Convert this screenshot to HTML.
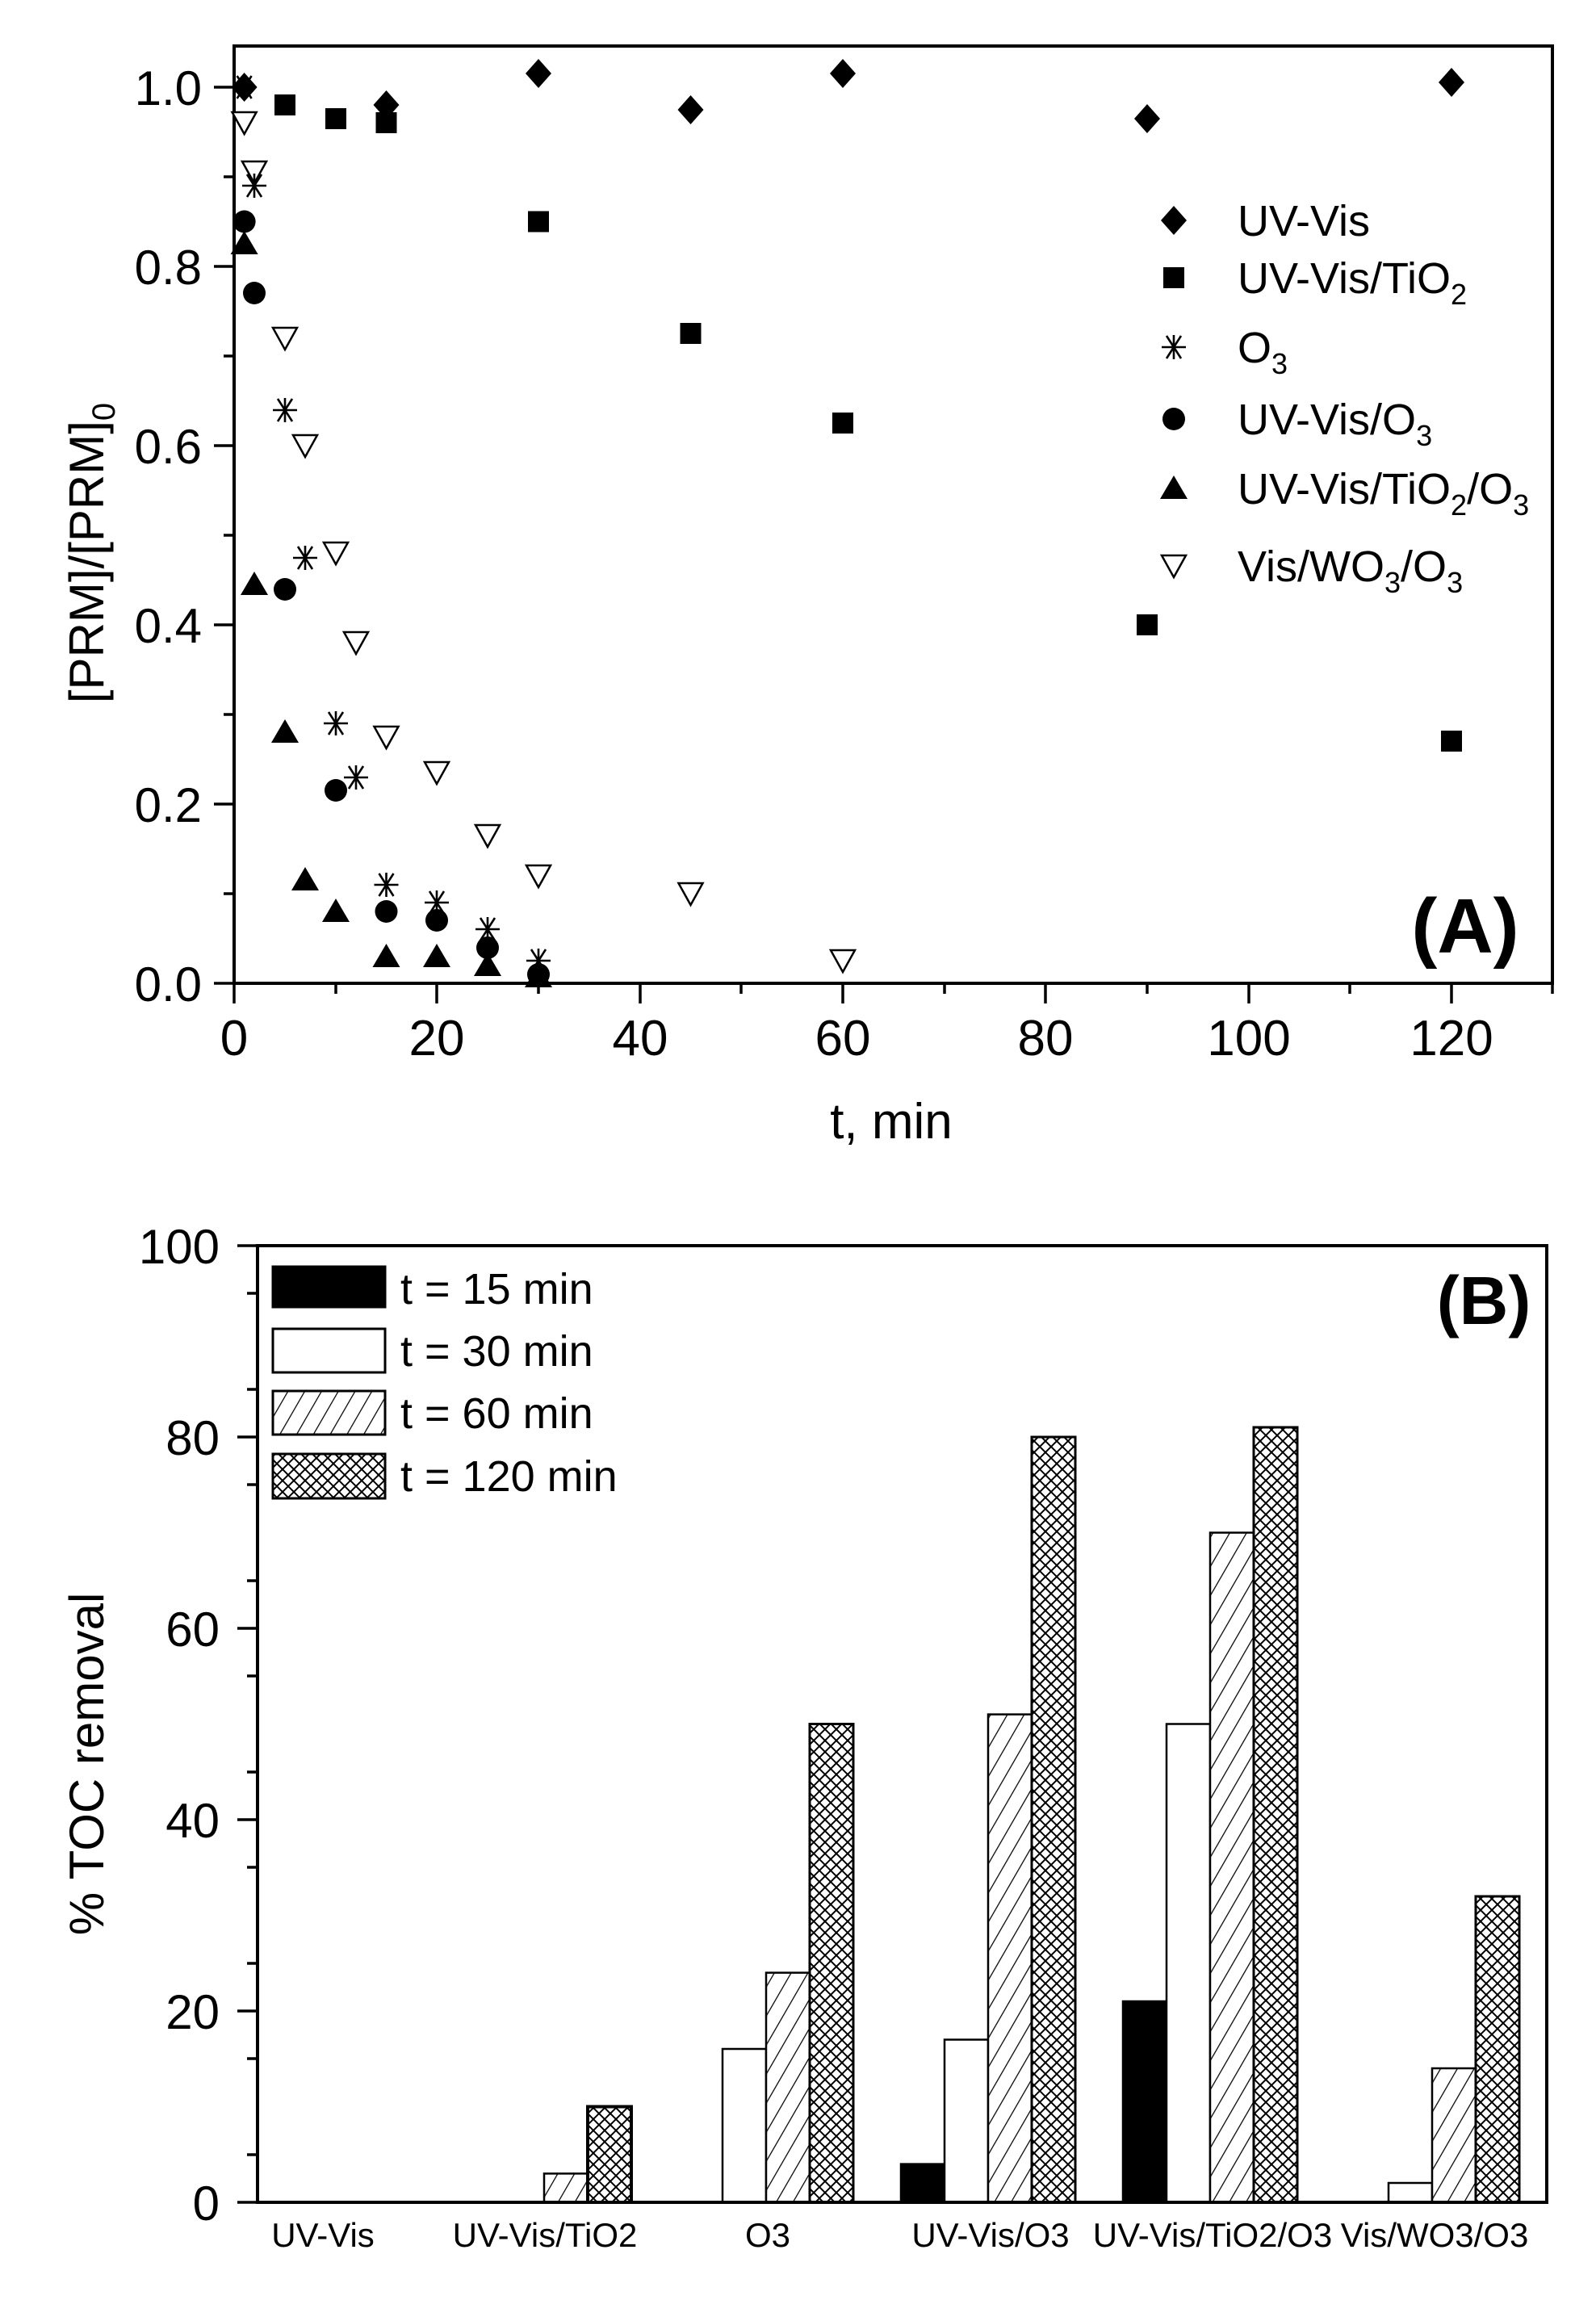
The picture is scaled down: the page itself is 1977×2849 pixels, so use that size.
<!DOCTYPE html>
<html><head><meta charset="utf-8"><style>
html,body{margin:0;padding:0;background:#fff;}
svg{display:block;}
text{font-family:"Liberation Sans",sans-serif;fill:#000;}
</style></head><body>
<svg width="1977" height="2849" viewBox="0 0 1977 2849" xmlns="http://www.w3.org/2000/svg">
<defs>
<pattern id="h60" patternUnits="userSpaceOnUse" width="18" height="18" patternTransform="rotate(30)">
<rect width="18" height="18" fill="#fff"/><line x1="0" y1="0" x2="0" y2="18" stroke="#000" stroke-width="2.5"/>
</pattern>
<pattern id="h120" patternUnits="userSpaceOnUse" width="14" height="14">
<rect width="14" height="14" fill="#fff"/>
<path d="M0,14 L14,0 M-3,3 L3,-3 M11,17 L17,11" stroke="#000" stroke-width="2"/>
<path d="M0,0 L14,14 M-3,11 L3,17 M11,-3 L17,3" stroke="#000" stroke-width="2"/>
</pattern>
<symbol id="dia" overflow="visible"><path d="M0,-18 L16,0 L0,18 L-16,0Z" fill="#000"/></symbol>
<symbol id="sq" overflow="visible"><rect x="-13" y="-13" width="26" height="26" fill="#000"/></symbol>
<symbol id="cir" overflow="visible"><circle r="14" fill="#000"/></symbol>
<symbol id="tu" overflow="visible"><path d="M0,-16 L17,13 L-17,13Z" fill="#000"/></symbol>
<symbol id="td" overflow="visible"><path d="M-15,-13 L15,-13 L0,14Z" fill="#fff" stroke="#000" stroke-width="2.5"/></symbol>
<symbol id="st" overflow="visible"><path d="M-15,0 L15,0 M-9,-14 L9,14 M9,-14 L-9,14 M0,-15 L0,15" stroke="#000" stroke-width="2.6" fill="none"/></symbol>
</defs>
<rect width="1977" height="2849" fill="#fff"/>

<!-- ========== Panel A ========== -->
<rect x="290" y="57" width="1633" height="1161" fill="none" stroke="#000" stroke-width="4"/>
<g stroke="#000" stroke-width="3.5">
<!-- y ticks -->
<line x1="265" y1="1218" x2="290" y2="1218"/><line x1="277" y1="1107" x2="290" y2="1107"/>
<line x1="265" y1="996" x2="290" y2="996"/><line x1="277" y1="885" x2="290" y2="885"/>
<line x1="265" y1="774" x2="290" y2="774"/><line x1="277" y1="663" x2="290" y2="663"/>
<line x1="265" y1="552" x2="290" y2="552"/><line x1="277" y1="441" x2="290" y2="441"/>
<line x1="265" y1="330" x2="290" y2="330"/><line x1="277" y1="219" x2="290" y2="219"/>
<line x1="265" y1="108" x2="290" y2="108"/>
<!-- x ticks -->
<line x1="290" y1="1218" x2="290" y2="1243"/><line x1="416" y1="1218" x2="416" y2="1231"/>
<line x1="541" y1="1218" x2="541" y2="1243"/><line x1="667" y1="1218" x2="667" y2="1231"/>
<line x1="793" y1="1218" x2="793" y2="1243"/><line x1="918" y1="1218" x2="918" y2="1231"/>
<line x1="1044" y1="1218" x2="1044" y2="1243"/><line x1="1170" y1="1218" x2="1170" y2="1231"/>
<line x1="1295" y1="1218" x2="1295" y2="1243"/><line x1="1421" y1="1218" x2="1421" y2="1231"/>
<line x1="1547" y1="1218" x2="1547" y2="1243"/><line x1="1672" y1="1218" x2="1672" y2="1231"/>
<line x1="1798" y1="1218" x2="1798" y2="1243"/><line x1="1923" y1="1218" x2="1923" y2="1231"/>
</g>
<g font-size="60" text-anchor="end">
<text x="250" y="1240">0.0</text><text x="250" y="1018">0.2</text><text x="250" y="796">0.4</text>
<text x="250" y="574">0.6</text><text x="250" y="352">0.8</text><text x="250" y="130">1.0</text>
</g>
<g font-size="62" text-anchor="middle">
<text x="290" y="1307">0</text><text x="541" y="1307">20</text><text x="793" y="1307">40</text>
<text x="1044" y="1307">60</text><text x="1295" y="1307">80</text><text x="1547" y="1307">100</text>
<text x="1798" y="1307">120</text>
</g>
<text x="1104" y="1410" font-size="62" text-anchor="middle">t, min</text>
<text transform="translate(128,685) rotate(-90)" font-size="60" text-anchor="middle">[PRM]/[PRM]<tspan font-size="40" dy="14">0</tspan></text>
<text x="1815" y="1180" font-size="96" font-weight="bold" text-anchor="middle">(A)</text>

<!-- data A -->
<use href="#dia" x="302.6" y="108"/><use href="#dia" x="478.5" y="130"/><use href="#dia" x="667" y="91"/>
<use href="#dia" x="855.5" y="136"/><use href="#dia" x="1044" y="91"/><use href="#dia" x="1421" y="147"/>
<use href="#dia" x="1798" y="102"/>
<use href="#sq" x="353" y="130"/><use href="#sq" x="416" y="147"/><use href="#sq" x="478.5" y="152"/>
<use href="#sq" x="667" y="274.5"/><use href="#sq" x="855.5" y="413"/><use href="#sq" x="1044" y="524"/>
<use href="#sq" x="1421" y="774"/><use href="#sq" x="1798" y="918"/>
<use href="#cir" x="302.6" y="274.5"/><use href="#cir" x="315" y="363"/><use href="#cir" x="353" y="730"/>
<use href="#cir" x="416" y="979"/><use href="#cir" x="478.5" y="1129"/><use href="#cir" x="541" y="1140"/>
<use href="#cir" x="604" y="1174"/><use href="#cir" x="667" y="1207"/>
<use href="#tu" x="302.6" y="302"/><use href="#tu" x="315" y="724"/><use href="#tu" x="353" y="907"/>
<use href="#tu" x="378" y="1090"/><use href="#tu" x="416" y="1129"/><use href="#tu" x="478.5" y="1185"/>
<use href="#tu" x="541" y="1185"/><use href="#tu" x="604" y="1196"/><use href="#tu" x="667" y="1210"/>
<use href="#td" x="302.6" y="152"/><use href="#td" x="315" y="213"/><use href="#td" x="353" y="419"/>
<use href="#td" x="378" y="552"/><use href="#td" x="416" y="685"/><use href="#td" x="441" y="796"/>
<use href="#td" x="478.5" y="913"/><use href="#td" x="541" y="957"/><use href="#td" x="604" y="1035"/>
<use href="#td" x="667" y="1085"/><use href="#td" x="855.5" y="1107"/><use href="#td" x="1044" y="1190"/>
<use href="#st" x="302.6" y="108"/><use href="#st" x="315" y="230"/><use href="#st" x="353" y="508"/>
<use href="#st" x="378" y="691"/><use href="#st" x="416" y="896"/><use href="#st" x="441" y="963"/>
<use href="#st" x="478.5" y="1096"/><use href="#st" x="541" y="1118"/><use href="#st" x="604" y="1151"/>
<use href="#st" x="667" y="1190"/>

<!-- legend A -->
<use href="#dia" x="1454" y="273"/><use href="#sq" x="1454" y="344"/><use href="#st" x="1454" y="430"/>
<use href="#cir" x="1454" y="519"/><use href="#tu" x="1454" y="605"/><use href="#td" x="1454" y="701"/>
<g font-size="54">
<text x="1533" y="292">UV-Vis</text>
<text x="1533" y="363">UV-Vis/TiO<tspan font-size="36" dy="14">2</tspan></text>
<text x="1533" y="449">O<tspan font-size="36" dy="14">3</tspan></text>
<text x="1533" y="538">UV-Vis/O<tspan font-size="36" dy="14">3</tspan></text>
<text x="1533" y="624">UV-Vis/TiO<tspan font-size="36" dy="14">2</tspan><tspan dy="-14">/O</tspan><tspan font-size="36" dy="14">3</tspan></text>
<text x="1533" y="720">Vis/WO<tspan font-size="36" dy="14">3</tspan><tspan dy="-14">/O</tspan><tspan font-size="36" dy="14">3</tspan></text>
</g>

<!-- ========== Panel B ========== -->
<g stroke="#000" stroke-width="2.5">
<!-- k1 -->
<rect x="674" y="2692.4" width="54" height="35.6" fill="url(#h60)"/>
<rect x="728" y="2609.5" width="54" height="118.5" fill="url(#h120)" stroke-width="4"/>
<!-- k2 -->
<rect x="895" y="2538" width="54" height="190" fill="#fff"/>
<rect x="949" y="2443.6" width="54" height="284.4" fill="url(#h60)"/>
<rect x="1003" y="2135.5" width="54" height="592.5" fill="url(#h120)" stroke-width="3"/>
<!-- k3 -->
<rect x="1116" y="2680.6" width="54" height="47.4" fill="#000"/>
<rect x="1170" y="2526.5" width="54" height="201.5" fill="#fff"/>
<rect x="1224" y="2123.6" width="54" height="604.4" fill="url(#h60)"/>
<rect x="1278" y="1780" width="54" height="948" fill="url(#h120)" stroke-width="3"/>
<!-- k4 -->
<rect x="1391" y="2479" width="54" height="249" fill="#000"/>
<rect x="1445" y="2135.5" width="54" height="592.5" fill="#fff"/>
<rect x="1499" y="1898.5" width="54" height="829.5" fill="url(#h60)"/>
<rect x="1553" y="1768" width="54" height="960" fill="url(#h120)" stroke-width="3"/>
<!-- k5 -->
<rect x="1720" y="2704" width="54" height="24" fill="#fff"/>
<rect x="1774" y="2562" width="54" height="166" fill="url(#h60)"/>
<rect x="1828" y="2349" width="54" height="379" fill="url(#h120)" stroke-width="3"/>
</g>
<rect x="319" y="1543" width="1597" height="1185" fill="none" stroke="#000" stroke-width="4"/>
<g stroke="#000" stroke-width="3.5">
<line x1="294" y1="2728" x2="319" y2="2728"/><line x1="306" y1="2669" x2="319" y2="2669"/>
<line x1="294" y1="2491" x2="319" y2="2491"/><line x1="306" y1="2432" x2="319" y2="2432"/>
<line x1="294" y1="2254" x2="319" y2="2254"/><line x1="306" y1="2195" x2="319" y2="2195"/>
<line x1="294" y1="2017" x2="319" y2="2017"/><line x1="306" y1="1958" x2="319" y2="1958"/>
<line x1="294" y1="1780" x2="319" y2="1780"/><line x1="306" y1="1721" x2="319" y2="1721"/>
<line x1="294" y1="1543" x2="319" y2="1543"/><line x1="306" y1="1602" x2="319" y2="1602"/>
<line x1="306" y1="2550" x2="319" y2="2550"/><line x1="306" y1="2313" x2="319" y2="2313"/>
<line x1="306" y1="2076" x2="319" y2="2076"/><line x1="306" y1="1839" x2="319" y2="1839"/>
</g>
<g font-size="60" text-anchor="end">
<text x="272" y="2750">0</text><text x="272" y="2513">20</text><text x="272" y="2276">40</text>
<text x="272" y="2039">60</text><text x="272" y="1802">80</text><text x="272" y="1565">100</text>
</g>
<g font-size="42" text-anchor="middle">
<text x="400" y="2783">UV-Vis</text><text x="675" y="2783">UV-Vis/TiO2</text>
<text x="951" y="2783">O3</text><text x="1227" y="2783">UV-Vis/O3</text>
<text x="1502" y="2783">UV-Vis/TiO2/O3</text><text x="1777" y="2783">Vis/WO3/O3</text>
</g>
<text transform="translate(128,2185) rotate(-90)" font-size="60" text-anchor="middle">% TOC removal</text>
<text x="1838" y="1640" font-size="84" font-weight="bold" text-anchor="middle">(B)</text>

<!-- legend B -->
<g stroke="#000" stroke-width="3">
<rect x="338" y="1569" width="139" height="50" fill="#000"/>
<rect x="338" y="1646" width="139" height="54" fill="#fff"/>
<rect x="338" y="1723" width="139" height="54" fill="url(#h60)"/>
<rect x="338" y="1801" width="139" height="55" fill="url(#h120)"/>
</g>
<g font-size="54">
<text x="496" y="1615">t = 15 min</text>
<text x="496" y="1692">t = 30 min</text>
<text x="496" y="1769">t = 60 min</text>
<text x="496" y="1847">t = 120 min</text>
</g>
</svg>
</body></html>
